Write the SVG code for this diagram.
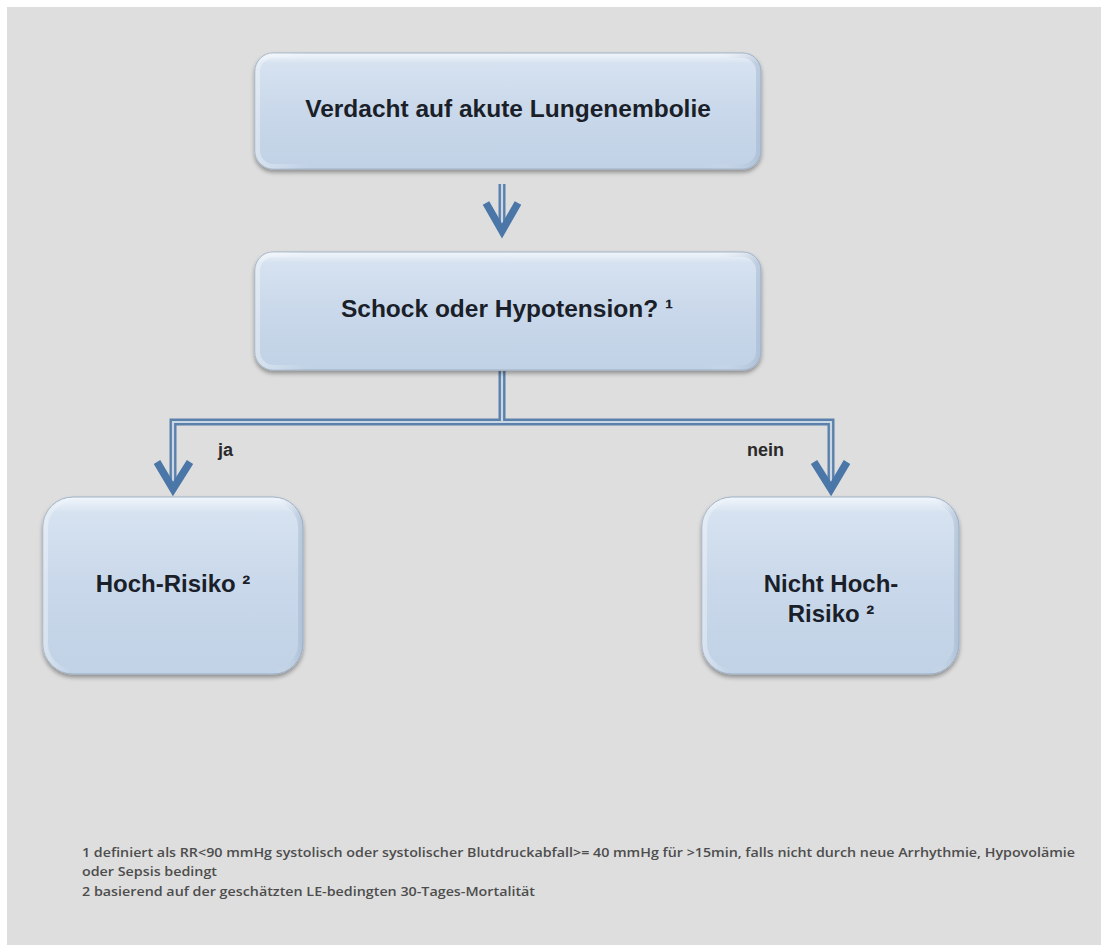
<svg xmlns="http://www.w3.org/2000/svg" width="1101" height="945" viewBox="0 0 1101 945">
  <defs>
    <style>
      .box { fill: url(#boxFill); stroke: #9fb1c6; stroke-width: 1; filter: url(#shadow); }
      .bevel { fill: none; stroke: url(#bevelStroke); stroke-width: 5; }
      .title { font-family: "Liberation Sans", Arial, sans-serif; font-weight: bold; font-size: 24.5px; fill: #1a1f29; text-anchor: middle; }
      .label { font-family: "Liberation Sans", Arial, sans-serif; font-weight: bold; font-size: 18px; fill: #2a2a2a; }
      .note { font-family: "Open Sans", "Liberation Sans", sans-serif; font-weight: 600; font-size: 12.5px; fill: #4d4d4d; }
      .pipeOuter { fill: none; stroke: #5b80aa; stroke-width: 7; stroke-linejoin: miter; }
      .pipeInner { fill: none; stroke: #c9d7e7; stroke-width: 2.2; stroke-linejoin: miter; }
      .head { fill: none; stroke: #4a76a8; stroke-width: 7.5; stroke-linejoin: miter; stroke-miterlimit: 10; }
    </style>
    <linearGradient id="boxFill" x1="0" y1="0" x2="0" y2="1">
      <stop offset="0" stop-color="#f1f6fb"/>
      <stop offset="0.09" stop-color="#d6e2f0"/>
      <stop offset="0.5" stop-color="#c9d8ea"/>
      <stop offset="1" stop-color="#c1d2e6"/>
    </linearGradient>
    <linearGradient id="bevelStroke" x1="0" y1="0" x2="1" y2="0">
      <stop offset="0" stop-color="#ffffff" stop-opacity="0.35"/>
      <stop offset="0.1" stop-color="#ffffff" stop-opacity="0"/>
      <stop offset="0.9" stop-color="#ffffff" stop-opacity="0"/>
      <stop offset="1" stop-color="#8da3bd" stop-opacity="0.35"/>
    </linearGradient>
    <filter id="shadow" x="-10%" y="-10%" width="120%" height="130%">
      <feDropShadow dx="0" dy="3" stdDeviation="2" flood-color="#000000" flood-opacity="0.35"/>
    </filter>
  </defs>

  <!-- page -->
  <rect x="0" y="0" width="1101" height="945" fill="#ffffff"/>
  <rect x="7" y="7" width="1094" height="938" fill="#dedede"/>

  <!-- connectors -->
  <g id="connectors">
    <!-- start to question -->
    <path class="pipeOuter" d="M502 184 V229"/>
    <path class="pipeInner" d="M502 184 V229"/>
    <polyline class="head" points="486,203 502,231 518,203"/>

    <!-- question split to both outcomes -->
    <path class="pipeOuter" d="M502 371 V422 M173 487 V422 H831 V487"/>
    <path class="pipeInner" d="M502 371 V422 M173 487 V422 H831 V487"/>
    <polyline class="head" points="157,462 173,489 190,462"/>
    <polyline class="head" points="814,462 831,489 847,462"/>

    <text class="label" x="218" y="456">ja</text>
    <text class="label" x="747" y="456">nein</text>
  </g>

  <!-- nodes -->
  <g id="node-verdacht">
    <rect class="box" x="255" y="53" width="506" height="116" rx="18"/>
    <rect class="bevel" x="257.5" y="55.5" width="501" height="111" rx="16"/>
    <text class="title" x="508" y="117">Verdacht auf akute Lungenembolie</text>
  </g>

  <g id="node-schock">
    <rect class="box" x="255" y="252" width="506" height="118" rx="18"/>
    <rect class="bevel" x="257.5" y="254.5" width="501" height="113" rx="16"/>
    <text class="title" x="507" y="317">Schock oder Hypotension? ¹</text>
  </g>

  <g id="node-hoch">
    <rect class="box" x="43" y="497" width="260" height="177" rx="30"/>
    <rect class="bevel" x="45.5" y="499.5" width="255" height="172" rx="28"/>
    <text class="title" x="173" y="592" style="font-size:24px">Hoch-Risiko ²</text>
  </g>

  <g id="node-nicht-hoch">
    <rect class="box" x="702" y="497" width="257" height="177" rx="30"/>
    <rect class="bevel" x="704.5" y="499.5" width="252" height="172" rx="28"/>
    <text class="title" x="831" y="592" style="font-size:24px">Nicht Hoch-</text>
    <text class="title" x="831" y="622" style="font-size:24px">Risiko ²</text>
  </g>

  <!-- footnotes -->
  <g id="footnotes">
    <text class="note" x="82" y="857" textLength="993" lengthAdjust="spacingAndGlyphs">1 definiert als RR&lt;90 mmHg systolisch oder systolischer Blutdruckabfall&gt;= 40 mmHg für &gt;15min, falls nicht durch neue Arrhythmie, Hypovolämie</text>
    <text class="note" x="82" y="876" textLength="135" lengthAdjust="spacingAndGlyphs">oder Sepsis bedingt</text>
    <text class="note" x="82" y="896" textLength="453" lengthAdjust="spacingAndGlyphs">2 basierend auf der geschätzten LE-bedingten 30-Tages-Mortalität</text>
  </g>
</svg>
